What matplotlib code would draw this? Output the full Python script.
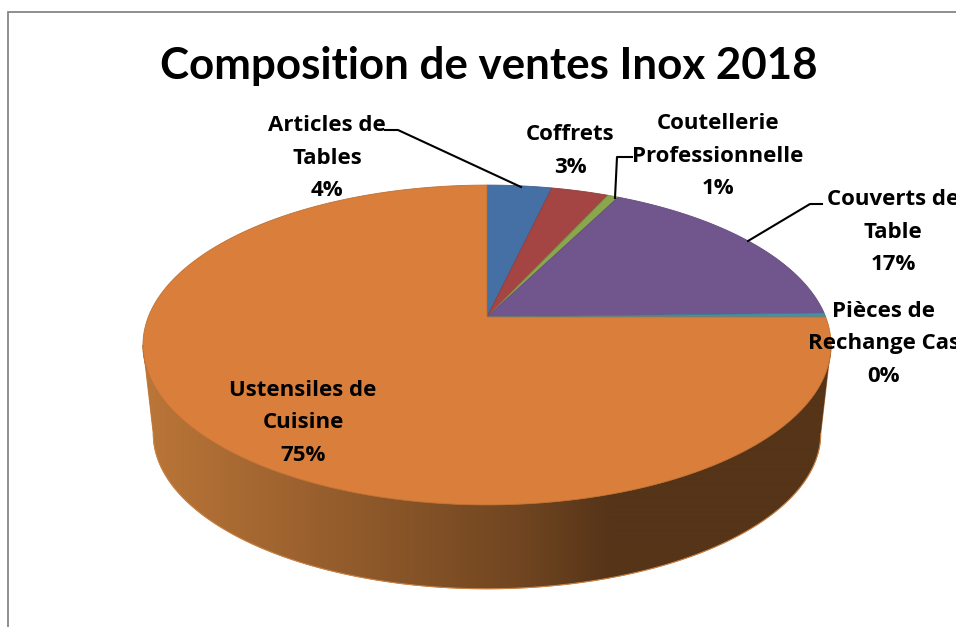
import numpy as np
import matplotlib
matplotlib.use('Agg')
import matplotlib.pyplot as plt
from matplotlib.colors import to_rgb
from matplotlib.patches import Polygon

title = 'Composition de ventes Inox 2018'
categories = ['Articles de\nTables', 'Coffrets', 'Coutellerie\nProfessionnelle',
              'Couverts de\nTable', 'Pièces de\nRechange Cas', 'Ustensiles de\nCuisine']
shares = [3.6, 3.2, 0.6, 17.2, 0.4, 75.0]
colors = ['#4470a5', '#a54543', '#8aa74e', '#71568e', '#3f93a9', '#d97f3b']

# Label centers, and the leader lines, in picture pixels.
label_positions = [(327, 158), (570, 151), (718, 156), (893, 232), (884, 344), (303, 423)]
leaders = [[(385, 130), (398, 130), (521, 187)],
           None,
           [(632, 157), (617, 157), (615, 198)],
           [(822, 204), (810, 204), (748, 241)],
           None, None]

# The tilted disc: a circle seen in perspective, the back is squeezed.
cx, cy = 487, 317
half_width, half_height, squeeze = 338.7, 155.0, 0.175
bottom_cy, bottom_scale = 406.5, 0.97

def project(angle, center_y=cy, scale=1.0):
  u, v = np.sin(angle), np.cos(angle)
  w = 1 + squeeze*v
  return (cx + scale*half_width*u/w, center_y - scale*half_height*v/w)

def wall_color(x):
  light = np.array([186, 117, 56])/255
  mid = np.array([110, 68, 32])/255
  dark = np.array([85, 52, 24])/255
  if x < 530:
    return light + (mid - light)*(x - 150)/380
  return mid + (dark - mid)*min((x - 530)/80, 1)

fig = plt.figure(figsize=(9.56, 6.27), dpi=100)
ax = fig.add_axes([0, 0, 1, 1])
ax.set_xlim(0, 956)
ax.set_ylim(627, 0)
ax.axis('off')

# Chart frame, only the top and left sides are in the picture.
ax.plot([956, 8, 8], [12, 12, 627], color='#868686', lw=1.3, solid_joinstyle='miter')

# Side wall: a horizontal gradient clipped to the outline between the widest points.
widest = np.arccos(-squeeze)
wall_angles = np.linspace(widest, 2*np.pi - widest, 400)
top_x, top_y = project(wall_angles)
low_x, low_y = project(wall_angles, bottom_cy, bottom_scale)
outline = np.c_[np.r_[top_x, low_x[::-1]], np.r_[top_y, low_y[::-1]]]
wall = Polygon(outline, closed=True, facecolor='#c98347', edgecolor='#c98347', lw=0.8, zorder=1.5)
ax.add_patch(wall)
gradient_x = np.arange(130, 840)
gradient = np.array([[wall_color(x) for x in gradient_x]])
im = ax.imshow(gradient, extent=(130, 840, 600, 300), aspect='auto', zorder=2, interpolation='bilinear')
im.set_clip_path(Polygon(outline, closed=True, transform=ax.transData))
ax.set_xlim(0, 956)
ax.set_ylim(627, 0)
ax.plot(low_x, low_y, color='#c98347', lw=0.7, zorder=2.5)

# Top face, one wedge per category, clockwise from 12 o'clock.
ends = np.cumsum(shares)/np.sum(shares)*2*np.pi
starts = np.r_[0, ends[:-1]]
for (a0, a1, color) in zip(starts, ends, colors):
  arc = np.linspace(a0, a1, max(int((a1 - a0)*120), 4))
  x, y = project(arc)
  edge = tuple(np.array(to_rgb(color))*0.88)
  ax.fill(np.r_[cx, x], np.r_[cy, y], facecolor=color, edgecolor=edge, lw=0.6, zorder=3)

# Labels and leader lines.
for (name, share, pos, leader) in zip(categories, shares, label_positions, leaders):
  ax.text(pos[0], pos[1], '%s\n%d%%' % (name, round(share)), ha='center', va='center',
          family='Open Sans', weight='bold', fontsize=16, linespacing=1.74, color='black', zorder=6)
  if leader is not None:
    ax.plot([p[0] for p in leader], [p[1] for p in leader], color='black', lw=1.5, zorder=5)

ax.text(489, 66, title, ha='center', va='center', family='Lato', weight='bold',
        fontsize=31.6, color='black', zorder=6)

fig.savefig('out.png', dpi=100)
